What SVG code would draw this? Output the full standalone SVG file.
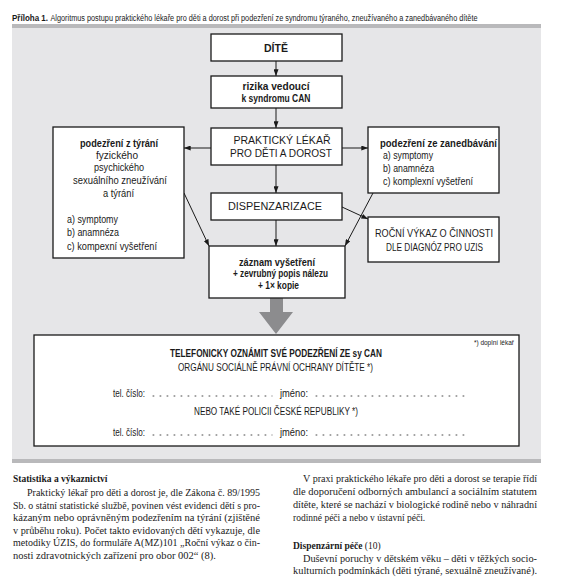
<svg xmlns="http://www.w3.org/2000/svg" width="564" height="577" viewBox="0 0 564 577">
<defs>
<style>
.bg{fill:#e6e6e8}
.band{fill:#b9b9bb}
.box{fill:#fff;stroke:#1a1a1a;stroke-width:1.3}
.t{font-family:"Liberation Sans",Arial,sans-serif;font-size:10px;fill:#1a1a1a}
.b{font-weight:bold}
.c{text-anchor:middle}
.sm{font-size:6.5px;text-anchor:end}
.s{font-family:"Liberation Serif","Times New Roman",serif;font-size:9.5px;fill:#1a1a1a}
.cap{font-family:"Liberation Sans",Arial,sans-serif;font-size:8.5px;fill:#1a1a1a}
.ln{stroke:#1a1a1a;stroke-width:1;fill:none}
.dots{stroke:#333;stroke-width:0.9;stroke-dasharray:0.9 6.1;stroke-linecap:round}
</style>
<marker id="ah" viewBox="0 0 8 6" refX="8" refY="3" markerWidth="7" markerHeight="5" orient="auto" markerUnits="userSpaceOnUse">
<path d="M0,0 L8,3 L0,6 Z" fill="#1a1a1a"/>
</marker>
</defs>

<text class="cap b" x="12" y="21" textLength="36" lengthAdjust="spacingAndGlyphs">Příloha 1.</text>
<text class="cap" x="50.5" y="21" textLength="427" lengthAdjust="spacingAndGlyphs">Algoritmus postupu praktického lékaře pro děti a dorost při podezření ze syndromu týraného, zneužívaného a zanedbávaného dítěte</text>

<rect class="bg" x="12" y="24" width="529" height="439"/>
<rect class="band" x="12" y="24" width="529" height="4"/>
<rect class="band" x="12" y="459" width="529" height="4"/>

<g id="connectors">
<line class="ln" x1="276" y1="61" x2="276" y2="76" marker-end="url(#ah)"/>
<line class="ln" x1="276" y1="108" x2="276" y2="128" marker-end="url(#ah)"/>
<line class="ln" x1="211" y1="148" x2="184" y2="148" marker-end="url(#ah)"/>
<line class="ln" x1="342" y1="148" x2="368" y2="148" marker-end="url(#ah)"/>
<line class="ln" x1="276" y1="165" x2="276" y2="193" marker-end="url(#ah)"/>
<line class="ln" x1="276" y1="220" x2="276" y2="246" marker-end="url(#ah)"/>
<line class="ln" x1="342" y1="207" x2="368" y2="219" marker-end="url(#ah)"/>
<line class="ln" x1="184" y1="193" x2="209" y2="246" marker-end="url(#ah)"/>
<line class="ln" x1="373" y1="193" x2="345" y2="246" marker-end="url(#ah)"/>
<path d="M270,298 H283 V312 H293 L276,334 L259,312 H270 Z" fill="#8c8c8e"/>
</g>

<g id="dite">
<rect class="box" x="211" y="34" width="131" height="27"/>
<text class="t b c" x="276" y="51.5" textLength="24" lengthAdjust="spacingAndGlyphs">DÍTĚ</text>
</g>

<g id="rizika">
<rect class="box" x="211" y="76" width="131" height="32"/>
<text class="t b c" x="276" y="89.5" textLength="67" lengthAdjust="spacingAndGlyphs">rizika vedoucí</text>
<text class="t b c" x="276" y="101.5" textLength="69" lengthAdjust="spacingAndGlyphs">k syndromu CAN</text>
</g>

<g id="lekar">
<rect class="box" x="211" y="128" width="131" height="37"/>
<text class="t c" x="282" y="144" textLength="97" lengthAdjust="spacingAndGlyphs">PRAKTICKÝ LÉKAŘ</text>
<text class="t c" x="281" y="157" textLength="102" lengthAdjust="spacingAndGlyphs">PRO DĚTI A DOROST</text>
</g>

<g id="tyrani">
<rect class="box" x="53" y="127" width="131" height="131"/>
<text class="t b c" x="119" y="146.5" textLength="78" lengthAdjust="spacingAndGlyphs">podezření z týrání</text>
<text class="t c" x="117" y="158.5" textLength="42" lengthAdjust="spacingAndGlyphs">fyzického</text>
<text class="t c" x="119" y="171" textLength="50" lengthAdjust="spacingAndGlyphs">psychického</text>
<text class="t c" x="120" y="184" textLength="94" lengthAdjust="spacingAndGlyphs">sexuálního zneužívání</text>
<text class="t c" x="118.5" y="196.5" textLength="31" lengthAdjust="spacingAndGlyphs">a týrání</text>
<text class="t" x="67" y="222.5" textLength="51" lengthAdjust="spacingAndGlyphs">a) symptomy</text>
<text class="t" x="67" y="236" textLength="52" lengthAdjust="spacingAndGlyphs">b) anamnéza</text>
<text class="t" x="67" y="249.5" textLength="90" lengthAdjust="spacingAndGlyphs">c) kompexní vyšetření</text>
</g>

<g id="zanedbavani">
<rect class="box" x="368" y="127" width="131" height="66"/>
<text class="t b" x="380" y="146.5" textLength="117" lengthAdjust="spacingAndGlyphs">podezření ze zanedbávání</text>
<text class="t" x="383" y="158.5" textLength="50" lengthAdjust="spacingAndGlyphs">a) symptomy</text>
<text class="t" x="383" y="171.5" textLength="51" lengthAdjust="spacingAndGlyphs">b) anamnéza</text>
<text class="t" x="383" y="184.5" textLength="90" lengthAdjust="spacingAndGlyphs">c) komplexní vyšetření</text>
</g>

<g id="dispenzarizace">
<rect class="box" x="211" y="193" width="131" height="27"/>
<text class="t c" x="275" y="210" textLength="94" lengthAdjust="spacingAndGlyphs">DISPENZARIZACE</text>
</g>

<g id="vykaz">
<rect class="box" x="368" y="217" width="131" height="45"/>
<text class="t c" x="434" y="236.5" textLength="118" lengthAdjust="spacingAndGlyphs">ROČNÍ VÝKAZ O ČINNOSTI</text>
<text class="t c" x="434.5" y="250.5" textLength="97" lengthAdjust="spacingAndGlyphs">DLE DIAGNÓZ PRO UZIS</text>
</g>

<g id="zaznam">
<rect class="box" x="209" y="246" width="136" height="52"/>
<text class="t b c" x="277" y="265.5" textLength="76" lengthAdjust="spacingAndGlyphs">záznam vyšetření</text>
<text class="t b c" x="280.5" y="277" textLength="95" lengthAdjust="spacingAndGlyphs">+ zevrubný popis nálezu</text>
<text class="t b c" x="278.5" y="288.5" textLength="41" lengthAdjust="spacingAndGlyphs">+ 1× kopie</text>
</g>

<g id="oznameni">
<rect class="box" x="34" y="335" width="485" height="111"/>
<text class="t sm" x="514" y="345">*) doplní lékař</text>
<text class="t b c" x="276" y="356.5" textLength="212" lengthAdjust="spacingAndGlyphs">TELEFONICKY OZNÁMIT SVÉ PODEZŘENÍ ZE sy CAN</text>
<text class="t c" x="275.5" y="371" textLength="195" lengthAdjust="spacingAndGlyphs">ORGÁNU SOCIÁLNĚ PRÁVNÍ OCHRANY DÍTĚTE *)</text>
<text class="t" x="113" y="397" textLength="32" lengthAdjust="spacingAndGlyphs">tel. číslo:</text>
<line class="dots" x1="153" y1="396" x2="272" y2="396"/>
<text class="t" x="280" y="397" textLength="28" lengthAdjust="spacingAndGlyphs">jméno:</text>
<line class="dots" x1="316" y1="396" x2="467" y2="396"/>
<text class="t c" x="276" y="414.5" textLength="164" lengthAdjust="spacingAndGlyphs">NEBO TAKÉ POLICII ČESKÉ REPUBLIKY *)</text>
<text class="t" x="113" y="436" textLength="32" lengthAdjust="spacingAndGlyphs">tel. číslo:</text>
<line class="dots" x1="153" y1="435" x2="272" y2="435"/>
<text class="t" x="280" y="436" textLength="28" lengthAdjust="spacingAndGlyphs">jméno:</text>
<line class="dots" x1="316" y1="435" x2="467" y2="435"/>
</g>

<g id="text-left">
<text class="s b" x="13" y="482">Statistika a výkaznictví</text>
<text class="s" x="27" y="496" textLength="233" lengthAdjust="spacingAndGlyphs">Praktický lékař pro děti a dorost je, dle Zákona č. 89/1995</text>
<text class="s" x="13" y="508.5" textLength="247" lengthAdjust="spacingAndGlyphs">Sb. o státní statistické službě, povinen vést evidenci dětí s pro-</text>
<text class="s" x="13" y="521" textLength="247" lengthAdjust="spacingAndGlyphs">kázaným nebo oprávněným podezřením na týrání (zjištěné</text>
<text class="s" x="13" y="533.5" textLength="247" lengthAdjust="spacingAndGlyphs">v průběhu roku). Počet takto evidovaných dětí vykazuje, dle</text>
<text class="s" x="13" y="546" textLength="247" lengthAdjust="spacingAndGlyphs">metodiky ÚZIS, do formuláře A(MZ)101 „Roční výkaz o čin-</text>
<text class="s" x="13" y="558.5" textLength="203" lengthAdjust="spacingAndGlyphs">nosti zdravotnických zařízení pro obor 002“ (8).</text>
</g>

<g id="text-right">
<text class="s" x="303" y="482" textLength="234" lengthAdjust="spacingAndGlyphs">V praxi praktického lékaře pro děti a dorost se terapie řídí</text>
<text class="s" x="293" y="495" textLength="244" lengthAdjust="spacingAndGlyphs">dle doporučení odborných ambulancí a sociálním statutem</text>
<text class="s" x="293" y="507.5" textLength="244" lengthAdjust="spacingAndGlyphs">dítěte, které se nachází v biologické rodině nebo v náhradní</text>
<text class="s" x="293" y="520.5">rodinné péči a nebo v ústavní péči.</text>
<text class="s" x="293" y="548.5"><tspan font-weight="bold">Dispenzární péče</tspan> (10)</text>
<text class="s" x="303" y="561.5" textLength="234" lengthAdjust="spacingAndGlyphs">Duševní poruchy v dětském věku – děti v těžkých socio-</text>
<text class="s" x="293" y="574" textLength="244" lengthAdjust="spacingAndGlyphs">kulturních podmínkách (děti týrané, sexuálně zneužívané).</text>
</g>
</svg>
